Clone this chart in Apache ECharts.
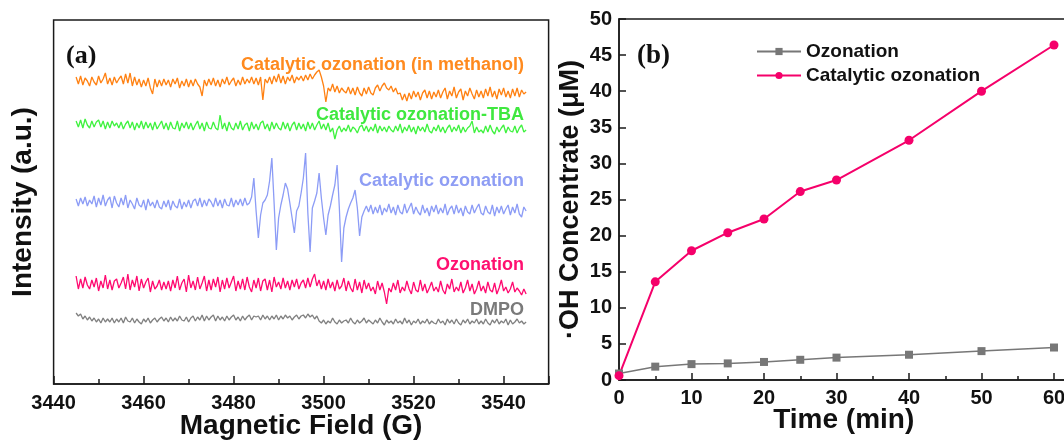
<!DOCTYPE html>
<html>
<head>
<meta charset="utf-8">
<script src="https://cdn.jsdelivr.net/npm/echarts@6/dist/echarts.min.js"></script>
<style>
  html, body { margin: 0; padding: 0; background: #fff; }
  #chart { width: 1064px; height: 441px; }
</style>
</head>
<body>
<div id="chart"></div>
<script>
var fieldStart = 3445;
var fieldStep = 0.5;

var methanolTrace = [
  5,-2,6,-3,4,1,-4,5,0,-3,6,-1,3,9,-2,4,-3,5,-1,3,
  6,-2,8,-1,9,-4,5,-3,3,-5,2,-4,4,-6,-12,3,-5,2,-4,3,
  -3,2,-5,3,-2,4,-6,1,-4,3,-5,2,-4,3,-2,-5,-14,2,-4,3,
  -3,4,-4,2,-5,3,-2,5,-3,1,4,-4,2,-3,5,-2,3,-1,5,-2,
  4,-3,5,-18,3,-1,5,-2,6,0,8,-1,6,-2,5,1,7,-1,5,2,
  6,1,7,2,8,3,7,10,12,5,-4,-20,-6,-9,-2,-10,-4,-11,-6,-9,
  -11,-5,-12,-6,-13,-5,-11,-14,-6,-12,-5,-11,-13,-6,-3,-9,-4,-1,-6,-8,
  -4,-10,-6,-12,-11,-18,-12,-19,-11,-17,-9,-15,-10,-18,-11,-8,-16,-9,-17,-10,
  -15,-8,-16,-10,-6,-17,-9,-14,-5,-16,-10,-7,-18,-9,-14,-6,-12,-17,-8,-15,
  -9,-16,-7,-14,-5,-15,-9,-17,-7,-13,-6,-15,-9,-16,-7,-14,-6,-15,-8,-12,
  -10
];
var tbaTrace = [
  5,-1,6,-2,7,1,-2,5,-1,4,6,-1,5,-3,4,-2,5,0,3,-2,
  4,-3,2,5,-2,4,-4,3,-2,5,-3,4,-2,3,-4,4,-3,1,5,-3,
  3,-4,4,-2,-3,5,-5,3,-2,4,-3,3,-4,1,5,-3,3,-5,4,-2,
  -3,4,-2,-4,11,-3,3,-5,4,-2,-4,3,-3,5,-4,1,3,-5,4,-3,
  2,-4,3,5,-3,2,-5,4,-3,3,-2,-4,4,-3,3,-5,1,4,-4,3,
  -3,2,-5,4,-3,3,-4,1,5,-3,2,-4,3,-6,-2,-13,-4,0,-6,-2,
  -5,1,-6,-1,-3,-7,-1,1,-5,0,-6,-1,-5,2,-7,0,-5,-1,-6,0,
  -4,-6,0,-5,2,-7,-1,-5,1,-6,-1,-8,0,-5,-1,-6,2,-5,-7,-1,
  -5,1,-6,-1,-7,-2,1,-6,-1,-5,1,-7,-1,-6,-2,0,5,-7,-1,-6,
  -4,-7,0,-6,1,-5,-8,-1,-6,-2,1,-7,-1,-5,-6,0,-7,-2,1,-6,
  -4
];
var catalyticTrace = [
  4,-3,5,-1,6,-3,3,-1,7,-4,5,-2,8,-3,3,6,-5,7,0,-4,
  5,-2,8,-5,3,-1,-6,5,-2,-4,3,-7,4,-3,1,-5,3,-4,-6,2,
  -4,3,-7,2,-3,-5,4,-6,1,-4,3,-5,2,4,-3,5,-4,3,-3,4,
  1,-4,5,-3,3,-5,4,-2,-3,5,-4,3,-2,4,-3,5,-2,0,6,25,
  -8,-35,-12,0,3,8,22,45,0,-47,-15,-2,8,20,14,0,-15,-30,-8,-3,
  10,25,50,-10,-49,-5,2,10,30,5,-15,-32,-12,-3,8,18,38,-5,-59,-25,
  -14,-6,0,5,13,-5,-33,-14,-8,-3,-9,-2,-11,-4,-10,-2,-12,-5,-9,-1,
  -10,-4,-12,-2,-9,-11,-1,-10,-5,0,-11,-4,-9,-12,-2,-10,-5,-13,-3,-9,
  -2,-11,-5,-10,-1,-12,-6,-3,-11,-2,-10,-5,-13,-3,-9,-11,-2,-10,-5,-1,
  -10,-12,-3,-9,-11,-2,-13,-4,-10,-3,-11,-6,-2,-12,-4,-10,-1,-11,-14,-4,
  -8
];
var ozonationTrace = [
  8,-5,5,-4,7,-1,-5,4,-3,6,-7,3,-4,9,-5,4,-6,3,5,-4,
  1,7,-5,10,-6,4,-3,8,-7,5,-4,2,6,-8,3,-5,-2,4,-6,2,
  -5,3,-7,4,-4,8,-6,1,5,-8,9,-4,3,-6,7,-5,1,8,-7,4,
  -6,5,-3,7,-8,4,-5,6,-4,2,8,-7,3,-5,5,-6,7,-3,-8,4,
  -4,6,-7,3,5,-6,4,-8,7,-3,2,-5,6,-4,3,-6,4,-3,5,-5,
  1,4,-4,6,-3,5,10,-2,4,-5,3,-6,5,-4,2,-7,4,-5,-2,6,
  -7,3,-4,-8,5,-6,2,-9,4,-5,1,-7,-3,-10,3,-6,1,-8,-20,-4,
  -8,1,-6,4,-9,-3,-7,3,-5,-10,2,-6,-8,4,-7,0,-9,-4,2,-7,
  -3,-8,3,-6,-10,0,-5,5,-8,-3,-7,2,-9,-4,4,-7,0,-10,-5,3,
  -7,-2,-9,2,-6,-8,1,-10,-4,4,-7,-3,-9,-5,2,-8,-4,-7,-11,-5,
  -10
];
var dmpoTrace = [
  6,3,5,0,3,-1,2,-2,1,-3,0,-4,1,-3,0,-3,1,-4,0,-3,
  1,-4,2,-2,-3,1,-4,0,-3,-5,0,-3,1,-4,-1,1,-3,0,2,-2,
  1,-3,2,-2,1,-2,3,-1,-2,2,-3,1,3,-2,2,-1,4,-2,3,-1,
  2,4,-2,3,-1,2,-2,3,-1,2,4,-1,2,-2,3,-1,2,4,-1,3,
  2,3,-1,4,0,3,-1,3,0,4,-1,3,0,4,1,3,-1,2,4,0,
  3,4,1,5,2,4,0,3,-2,-4,-1,-5,-2,-4,1,-3,-5,-1,-4,-2,
  -1,-4,1,-3,-5,-1,-4,-2,1,-4,-1,-3,-5,-1,-4,1,-3,-6,-1,-4,
  -2,-5,0,-4,-2,-5,1,-4,-1,-6,-2,-4,0,-5,-2,-4,0,-5,-2,-4,
  -5,0,-4,-2,-6,0,-4,-1,-5,0,-4,-6,-1,-4,0,-5,-2,-4,0,-5,
  -2,-5,0,-4,-6,-1,-4,0,-5,-2,-4,0,-6,-1,-5,-3,0,-4,-2,-5,
  -3
];

var traceNames = ["Catalytic ozonation (in methanol)", "Catalytic ozonation-TBA", "Catalytic ozonation", "Ozonation", "DMPO"];

// (b) .OH concentration vs time
var timeMin = [0, 5, 10, 15, 20, 25, 30, 40, 50, 60];
var ozonationOH = [0.9, 1.85, 2.2, 2.3, 2.5, 2.8, 3.1, 3.5, 4.0, 4.5];
var catalyticOH = [0.6, 13.6, 17.9, 20.4, 22.3, 26.1, 27.7, 33.2, 40.0, 46.4];

// stacking offsets for the spectra (a.u.) and colours
var traces = [methanolTrace, tbaTrace, catalyticTrace, ozonationTrace, dmpoTrace];
var stackOffset = [302, 258, 181, 100, 65];
var traceColors = ["#ff8112", "#3ff23f", "#8c9cf6", "#ff0a70", "#808080"];
var labelColors = ["#ff8a1e", "#3fe83f", "#8e9df4", "#ff1070", "#7a7a7a"];
var labelY = [65, 115, 181, 265, 310];

function traceData(values, offset) {
  return values.map(function (v, i) {
    return [fieldStart + i * fieldStep, v + offset];
  });
}

var sans = "'Liberation Sans', Arial, sans-serif";
var serif = "'Liberation Serif', 'Times New Roman', serif";
var axisLine = { show: true, lineStyle: { color: "#1a1a1a", width: 1.5 } };
var plainNumber = function (v) { return String(v); };
var nameFont = { fontFamily: sans, fontWeight: "bold", fontSize: 28, color: "#111" };

var series = traces.map(function (t, i) {
  return {
    name: traceNames[i],
    type: "line",
    xAxisIndex: 0,
    yAxisIndex: 0,
    showSymbol: false,
    symbol: "none",
    data: traceData(t, stackOffset[i]),
    lineStyle: { color: traceColors[i], width: 1.3 },
    animation: false
  };
});

series.push({
  name: "Ozonation ",
  type: "line",
  xAxisIndex: 1,
  yAxisIndex: 1,
  data: timeMin.map(function (t, i) { return [t, ozonationOH[i]]; }),
  symbol: "rect",
  symbolSize: 8,
  itemStyle: { color: "#777777" },
  lineStyle: { color: "#777777", width: 1.5 },
  animation: false
});
series.push({
  name: "Catalytic ozonation ",
  type: "line",
  xAxisIndex: 1,
  yAxisIndex: 1,
  data: timeMin.map(function (t, i) { return [t, catalyticOH[i]]; }),
  symbol: "circle",
  symbolSize: 9,
  itemStyle: { color: "#f5006a" },
  lineStyle: { color: "#f5006a", width: 2 },
  animation: false
});

var graphics = traceNames.map(function (name, i) {
  return {
    type: "text",
    x: 524,
    y: labelY[i],
    style: {
      text: name,
      fill: labelColors[i],
      font: "bold 18px " + sans,
      align: "right",
      verticalAlign: "middle"
    }
  };
});
graphics.push({
  type: "text", x: 66, y: 56,
  style: { text: "(a)", fill: "#111", font: "bold 26px " + serif, align: "left", verticalAlign: "middle" }
});
graphics.push({
  type: "text", x: 637, y: 56,
  style: { text: "(b)", fill: "#111", font: "bold 27px " + serif, align: "left", verticalAlign: "middle" }
});

var option = {
  animation: false,
  backgroundColor: "#fff",
  grid: [
    { left: 53.6, top: 20, width: 495, height: 364, outerBoundsMode: "none", containLabel: false,
      show: true, borderColor: "#1a1a1a", borderWidth: 1.5 },
    { left: 619, top: 19, width: 449.5, height: 361, outerBoundsMode: "none", containLabel: false,
      show: true, borderColor: "#1a1a1a", borderWidth: 1.5 }
  ],
  legend: {
    data: ["Ozonation ", "Catalytic ozonation "],
    orient: "vertical",
    left: 751,
    top: 37,
    itemWidth: 44,
    itemHeight: 9,
    itemGap: 5,
    textStyle: { fontFamily: sans, fontWeight: "bold", fontSize: 19, color: "#111" }
  },
  xAxis: [
    {
      gridIndex: 0,
      type: "value",
      min: 3440,
      max: 3550,
      interval: 20,
      name: "Magnetic Field (G)",
      nameLocation: "middle",
      nameGap: 28,
      nameMoveOverlap: false,
      nameTextStyle: nameFont,
      axisLine: axisLine,
      axisTick: { inside: true, length: 8, lineStyle: { color: "#1a1a1a", width: 1.5 } },
      minorTick: { show: true, splitNumber: 2, length: 5, lineStyle: { color: "#1a1a1a", width: 1.5 } },
      axisLabel: { fontFamily: sans, fontWeight: "bold", fontSize: 20, color: "#111", margin: 9,
        showMaxLabel: false, formatter: plainNumber },
      splitLine: { show: false }
    },
    {
      gridIndex: 1,
      type: "value",
      min: 0,
      max: 62,
      interval: 10,
      name: "Time (min)",
      nameLocation: "middle",
      nameGap: 26,
      nameMoveOverlap: false,
      nameTextStyle: nameFont,
      axisLine: axisLine,
      axisTick: { inside: true, length: 7, lineStyle: { color: "#1a1a1a", width: 1.5 } },
      minorTick: { show: true, splitNumber: 2, length: 4, lineStyle: { color: "#1a1a1a", width: 1.5 } },
      axisLabel: { fontFamily: sans, fontWeight: "bold", fontSize: 20, color: "#111", margin: 8,
        showMaxLabel: false, formatter: plainNumber },
      splitLine: { show: false }
    }
  ],
  yAxis: [
    {
      gridIndex: 0,
      type: "value",
      min: 0,
      max: 364,
      name: "Intensity (a.u.)",
      nameLocation: "middle",
      nameGap: 16,
      nameMoveOverlap: false,
      nameTextStyle: nameFont,
      axisLine: { show: false },
      axisTick: { show: false },
      axisLabel: { show: false },
      splitLine: { show: false }
    },
    {
      gridIndex: 1,
      type: "value",
      min: 0,
      max: 50,
      interval: 5,
      name: "·OH Concentrate (μM)",
      nameLocation: "middle",
      nameGap: 35,
      nameMoveOverlap: false,
      nameTextStyle: { fontFamily: sans, fontWeight: "bold", fontSize: 27, color: "#111" },
      axisLine: axisLine,
      axisTick: { inside: true, length: 7, lineStyle: { color: "#1a1a1a", width: 1.5 } },
      axisLabel: { fontFamily: sans, fontWeight: "bold", fontSize: 20, color: "#111", margin: 7 },
      splitLine: { show: false }
    }
  ],
  graphic: graphics,
  series: series
};

var myChart = echarts.init(document.getElementById("chart"));
myChart.setOption(option);
</script>
</body>
</html>
